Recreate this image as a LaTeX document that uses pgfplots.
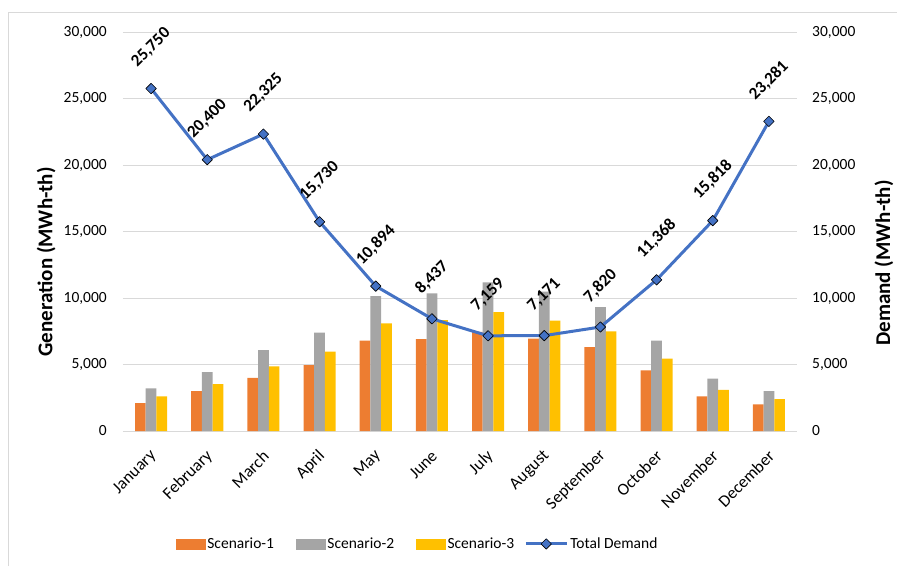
\documentclass[border=0pt]{standalone}
\usepackage{pgfplots}
\pgfplotsset{compat=1.18}
\usepackage{fontspec}
\setmainfont{Carlito}
\definecolor{cOrange}{HTML}{ED7D31}
\definecolor{cGray}{HTML}{A5A5A5}
\definecolor{cYellow}{HTML}{FFC000}
\definecolor{cBlue}{HTML}{4472C4}
\definecolor{cGrid}{HTML}{D9D9D9}
\newcommand{\tickfont}{\fontsize{15.5}{18}\selectfont}
\newcommand{\xtickfont}{\fontsize{17}{19}\selectfont}
\newcommand{\titlefont}{\fontsize{21}{24}\selectfont\bfseries}
\newcommand{\labfont}{\fontsize{17}{20}\selectfont\bfseries}
\pgfplotsset{
  common/.style={
    scale only axis, width=674pt, height=399pt,
    at={(123pt,135pt)}, anchor=south west,
    xmin=-0.5, xmax=11.5, ymin=0, ymax=30000,
    ytick={0,5000,...,30000},
    major tick length=0pt,
    /pgf/number format/.cd, 1000 sep={,}, assume math mode=true, /pgfplots/.cd,
    scaled y ticks=false,
    tick label style={font=\tickfont},
  },
  barlegend/.style={legend image code/.code={\fill[##1] (0pt,-5pt) rectangle (29pt,5pt);}},
  linelegend/.style={legend image code/.code={
     \draw[draw=cBlue, line width=3pt, fill=none] (0pt,0pt) -- (29pt,0pt);
     \draw[overlay, draw=cBlue, line width=3pt, fill=none] (-12pt,0pt) -- (0.5pt,0pt);
     \filldraw[fill=cBlue, draw=black, line width=0.6pt] (8.5pt,-5.2pt) -- (13.7pt,0pt) -- (8.5pt,5.2pt) -- (3.3pt,0pt) -- cycle;}},
}
\begin{document}
\begin{tikzpicture}
\useasboundingbox (0pt,0pt) rectangle (897pt,566pt);
\draw[color=cGrid, line width=0.8pt] (8pt,0pt) -- (8pt,554pt) -- (897pt,554pt);
\begin{axis}[common,
  axis line style={draw=none},
  ymajorgrids, grid style={cGrid, line width=0.8pt},
  xtick={0,...,11},
  xticklabels={January,February,March,April,May,June,July,August,September,October,November,December},
  xticklabel style={font=\xtickfont, yshift=-20pt, xshift=5pt, rotate=45, anchor=east},
  yticklabel style={inner xsep=0pt, xshift=-16pt},
  ylabel={Generation (MWh-th)},
  every axis y label/.style={at={(axis description cs:-0.114,0.424)}, rotate=90, anchor=center, font=\titlefont},
  ybar=0pt, bar width=10.7pt,
]
\addplot[fill=cOrange, draw=none] coordinates {(0,2100)(1,3000)(2,4000)(3,4950)(4,6800)(5,6900)(6,7450)(7,6950)(8,6300)(9,4550)(10,2600)(11,2000)};
\addplot[fill=cGray, draw=none] coordinates {(0,3200)(1,4420)(2,6080)(3,7400)(4,10150)(5,10350)(6,11180)(7,10480)(8,9320)(9,6790)(10,3940)(11,3000)};
\addplot[fill=cYellow, draw=none] coordinates {(0,2600)(1,3530)(2,4850)(3,5960)(4,8100)(5,8330)(6,8940)(7,8300)(8,7500)(9,5450)(10,3100)(11,2400)};
\end{axis}
\begin{axis}[common,
  axis x line=none,
  axis y line*=right,
  axis line style={draw=none},
  xtick=\empty,
  yticklabel style={inner xsep=0pt, xshift=15pt, anchor=west},
  ylabel={Demand (MWh-th)},
  every axis y label/.style={at={(axis description cs:1.129,0.421)}, rotate=90, anchor=center, font=\titlefont},
  legend style={at={(axis description cs:0.0786,-0.283)}, anchor=west, draw=none, fill=none,
    inner sep=0pt, outer sep=0pt, font=\tickfont, legend columns=4,
    /tikz/every even column/.append style={column sep=20pt},
    nodes={inner xsep=2pt, inner ysep=0pt}},
  legend cell align=left,
]
\addlegendimage{barlegend, cOrange}
\addlegendentry{Scenario-1}
\addlegendimage{barlegend, cGray}
\addlegendentry{Scenario-2}
\addlegendimage{barlegend, cYellow}
\addlegendentry{Scenario-3}
\addplot[cBlue, line width=3pt, line join=round,
  mark=square*, mark size=3.7pt, mark options={rotate=45, fill=cBlue, draw=black, line width=0.6pt, solid},
  nodes near coords,
  every node near coord/.append style={font=\labfont, text=black, anchor=center, yshift=41pt, rotate=45},
  linelegend,
] coordinates {(0,25750)(1,20400)(2,22325)(3,15730)(4,10894)(5,8437)(6,7159)(7,7171)(8,7820)(9,11368)(10,15818)(11,23281)};
\addlegendentry{Total Demand}
\end{axis}
\end{tikzpicture}
\end{document}
